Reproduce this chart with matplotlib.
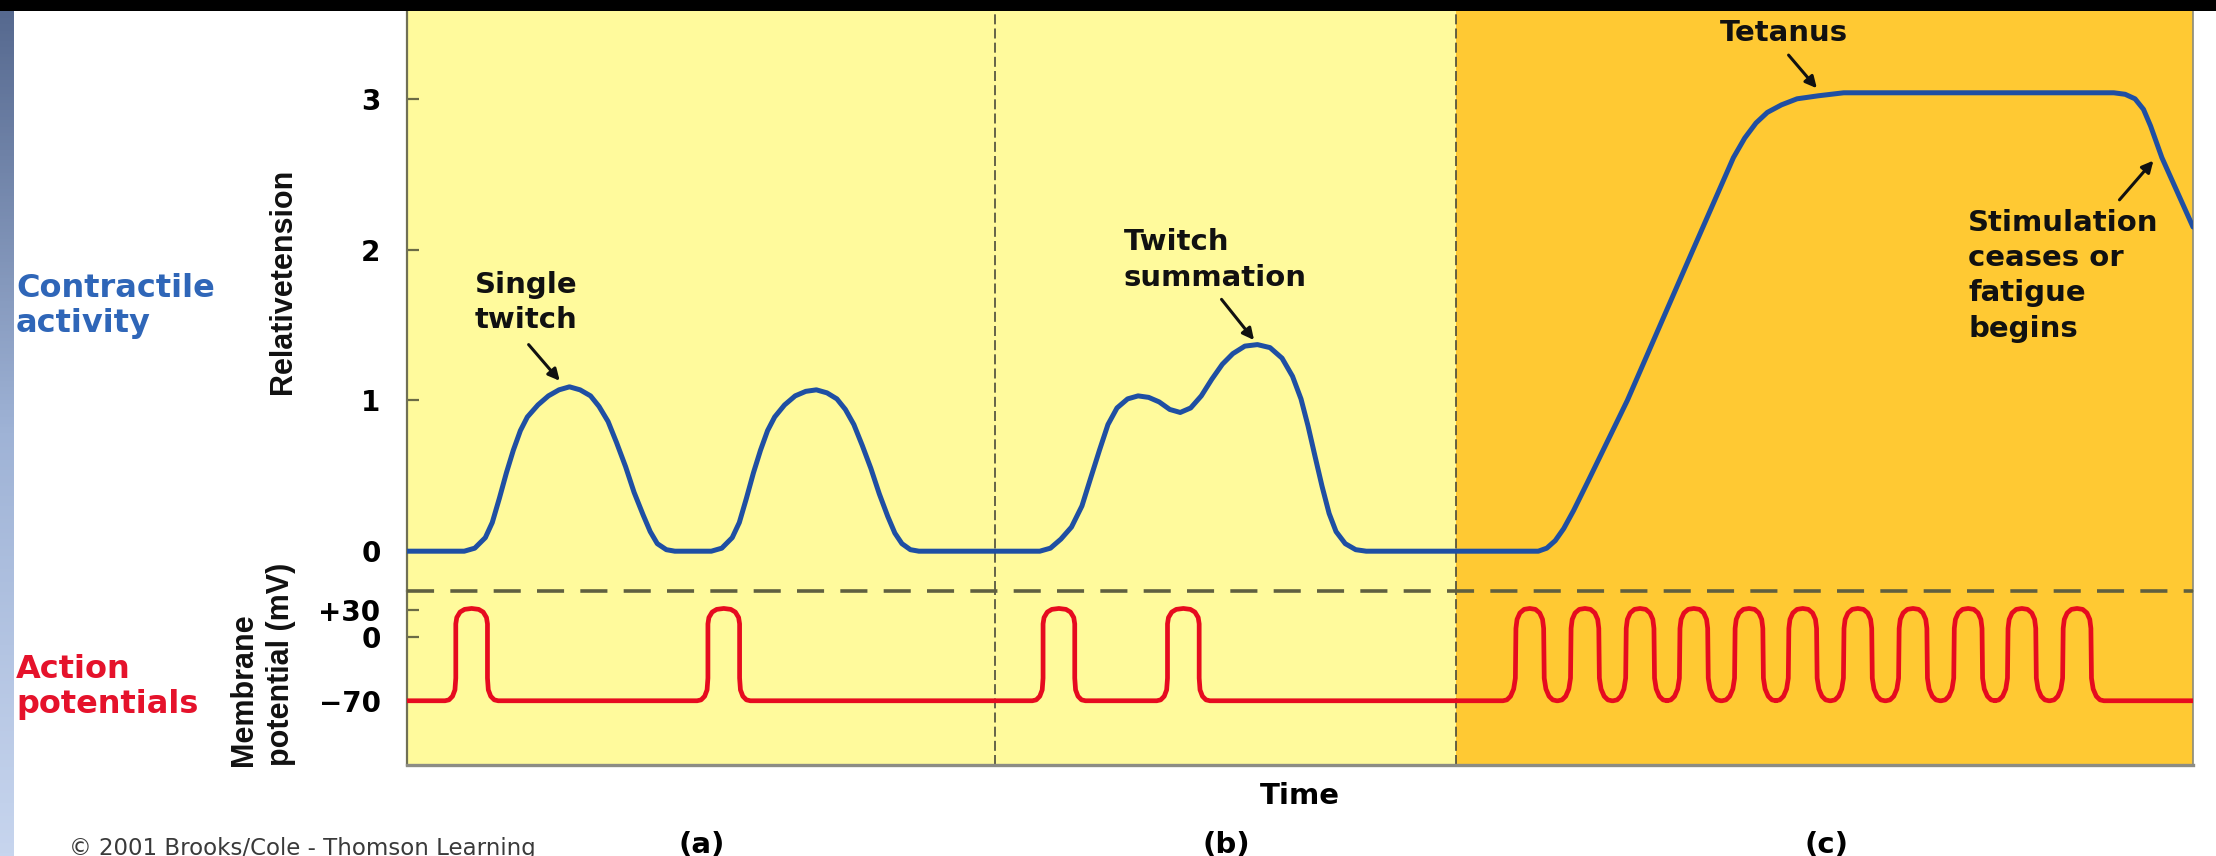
import matplotlib.pyplot as plt
from matplotlib.patches import Rectangle
from matplotlib.colors import LinearSegmentedColormap
import numpy as np

W, H = 2216, 856          # output size in pixels (dpi 100)

T_END = 126.3             # time axis, arbitrary units across the panel
SECTION_EDGES = [41.6, 74.2]
SECTION_LABELS = ["(a)", "(b)", "(c)"]
SECTION_LABEL_X = [702, 1226, 1826]

# relative tension (blue trace)
tension_t = [0.0,
             4.05, 4.79, 5.54, 6.03, 6.53, 7.03, 7.52, 8.02, 8.51, 9.26, 10.0, 10.75, 11.49,
             12.24, 12.98, 13.58, 14.22, 14.82, 15.46, 16.06, 16.7, 17.2, 17.7, 18.34, 18.94,
             21.52, 22.26, 23.0, 23.5, 24.0, 24.5, 25.0, 25.5, 26.0, 26.7, 27.45, 28.2, 28.95,
             29.7, 30.4, 31.0, 31.6, 32.2, 32.8, 33.4, 34.0, 34.5, 35.0, 35.6, 36.2,
             44.75, 45.5, 46.24, 46.99, 47.73, 48.33, 48.97, 49.57, 50.21, 50.96, 51.7, 52.45,
             53.19, 53.94, 54.68, 55.42, 56.17, 56.91, 57.66, 58.4, 59.25, 60.14, 61.03, 61.88,
             62.62, 63.22, 63.72, 64.21, 64.71, 65.21, 65.7, 66.35, 67.09, 67.83,
             80.0, 80.6, 81.2, 81.8, 82.5, 83.5, 86.3, 90.9, 93.8, 94.6, 95.4, 96.2, 97.2,
             98.3, 99.8, 101.6, 120.7, 121.5, 122.2, 122.8, 123.3, 124.1, 126.3]
tension_v = [0.0,
             0.0, 0.02, 0.09, 0.19, 0.35, 0.52, 0.67, 0.80, 0.89, 0.97, 1.03, 1.07, 1.09,
             1.07, 1.03, 0.96, 0.86, 0.72, 0.56, 0.39, 0.24, 0.13, 0.05, 0.01, 0.0,
             0.0, 0.02, 0.09, 0.19, 0.35, 0.52, 0.67, 0.80, 0.89, 0.97, 1.03, 1.06, 1.07,
             1.05, 1.01, 0.94, 0.84, 0.70, 0.55, 0.38, 0.23, 0.12, 0.05, 0.01, 0.0,
             0.0, 0.02, 0.08, 0.16, 0.30, 0.48, 0.67, 0.84, 0.95, 1.01, 1.03, 1.02,
             0.99, 0.94, 0.92, 0.95, 1.03, 1.14, 1.24, 1.31, 1.36, 1.37, 1.35, 1.28,
             1.16, 1.01, 0.83, 0.63, 0.43, 0.25, 0.13, 0.05, 0.01, 0.0,
             0.0, 0.02, 0.07, 0.15, 0.27, 0.46, 1.0, 1.99, 2.61, 2.74, 2.84, 2.91, 2.96,
             3.00, 3.02, 3.04, 3.04, 3.03, 3.00, 2.93, 2.82, 2.61, 2.15]

# action potentials (red trace)
REST_MV = -70
single_ap_times = [4.57, 22.4, 46.1, 54.9]
tetanus_ap_times = [79.4, 83.3, 87.2, 91.0, 94.9, 98.7, 102.6, 106.5, 110.4, 114.2, 118.1]
# spike shapes: offset from peak, mV
single_dt = [-1.88, -1.60, -1.35, -1.18, -1.12, -1.12, -1.05, -0.82, -0.50, 0.0,
             0.50, 0.82, 1.05, 1.12, 1.12, 1.18, 1.35, 1.60, 1.88]
single_mv = [-70, -69, -65, -58, -45, 15, 22, 28, 31, 32,
             31, 28, 22, 15, -45, -58, -65, -69, -70]
tetanus_dt = [-1.90, -1.62, -1.36, -1.14, -1.02, -0.98, -0.90, -0.70, -0.40, 0.0,
              0.40, 0.70, 0.90, 0.98, 1.02, 1.14, 1.36, 1.62, 1.90]
tetanus_mv = [-70, -69, -65, -57, -45, 10, 20, 27, 31, 32,
              31, 27, 20, 10, -45, -57, -65, -69, -70]

tension_ticks = [0, 1, 2, 3]
mv_ticks = [30, 0, -70]
mv_tick_labels = ["+30", "0", "\u221270"]

YELLOW = "#fffa9c"
ORANGE = "#ffc933"
BLUE = "#1f4fa3"
RED = "#e60b1f"
OLIVE = "#6b6b45"


def fx(x):
    return x / W


def fy(y):
    return 1 - y / H


fig = plt.figure(figsize=(W / 100, H / 100), dpi=100)
fig.patch.set_facecolor("white")

left, right = 407, 2193
ax_t = fig.add_axes([fx(left), fy(591), (right - left) / W, (591 - 10) / H])
ax_m = fig.add_axes([fx(left), fy(765), (right - left) / W, (765 - 591) / H], sharex=ax_t)
ax_t.set_zorder(3)

bold = dict(family="DejaVu Sans", weight="bold")

for ax in (ax_t, ax_m):
    ax.set_facecolor(YELLOW)
    ax.axvspan(0, SECTION_EDGES[1], color=YELLOW, lw=0, zorder=0)
    ax.axvspan(SECTION_EDGES[1], T_END, color=ORANGE, lw=0, zorder=0)
    for xe in SECTION_EDGES:
        ax.axvline(xe, color="#4a4a3a", lw=1.2, dashes=(6, 2.5), zorder=1)
    ax.set_xlim(0, T_END)
    ax.tick_params(axis="y", direction="in", length=8.5, width=1.6, color=OLIVE,
                   pad=19, labelsize=20)
    ax.tick_params(axis="x", bottom=False, labelbottom=False)
    ax.spines["top"].set_visible(False)
    ax.spines["left"].set_color("#707055")
    ax.spines["left"].set_linewidth(1.6)
    ax.spines["right"].set_color("#8a8a7a")
    ax.spines["right"].set_linewidth(1.2)

ax_t.spines["bottom"].set_visible(False)
ax_m.spines["bottom"].set_color("#8c8c84")
ax_m.spines["bottom"].set_linewidth(2.4)

# tension panel
ax_t.set_ylim(-0.264, 3.589)
ax_t.set_yticks(tension_ticks)
ax_t.set_yticklabels([str(v) for v in tension_ticks], **bold)
ax_t.plot(tension_t, tension_v, color=BLUE, lw=3.6, solid_joinstyle="round",
          solid_capstyle="round", zorder=3)
ax_t.axhline(-0.264, color="#5f5f40", lw=2.6, dashes=(7.5, 4.5), clip_on=False, zorder=4)

# membrane panel
ap_t = [0.0]
ap_v = [REST_MV]
for t0 in single_ap_times + tetanus_ap_times:
    if t0 in single_ap_times:
        dts, mvs = single_dt, single_mv
    else:
        dts, mvs = tetanus_dt, tetanus_mv
    ap_t += [t0 + d for d in dts]
    ap_v += mvs
ap_t.append(T_END)
ap_v.append(REST_MV)
ax_m.set_ylim(-141, 51.3)
ax_m.set_yticks(mv_ticks)
ax_m.set_yticklabels(mv_tick_labels, **bold)
ax_m.plot(ap_t, ap_v, color=RED, lw=3.4, solid_joinstyle="round",
          solid_capstyle="round", zorder=3)

# annotations
ann = dict(fontsize=21, color="#111111", linespacing=1.33, **bold)
arrow = dict(arrowstyle="-|>", color="#111111", lw=2.2, mutation_scale=17,
             shrinkA=0, shrinkB=0)
ax_t.text(4.8, 1.86, "Single\ntwitch", ha="left", va="top", **ann)
ax_t.annotate("", xy=(10.8, 1.13), xytext=(8.6, 1.37), arrowprops=arrow)
ax_t.text(50.7, 2.14, "Twitch\nsummation", ha="left", va="top", **ann)
ax_t.annotate("", xy=(59.9, 1.40), xytext=(57.6, 1.67), arrowprops=arrow)
ax_t.text(97.4, 3.53, "Tetanus", ha="center", va="top", **ann)
ax_t.annotate("", xy=(99.7, 3.07), xytext=(97.7, 3.29), arrowprops=arrow)
ax_t.text(110.4, 2.27, "Stimulation\nceases or\nfatigue\nbegins", ha="left", va="top", **ann)
ax_t.annotate("", xy=(123.5, 2.59), xytext=(121.1, 2.33), arrowprops=arrow)

# axis titles
rot = dict(family="Liberation Sans", weight="bold", fontsize=22, color="#111111")
fig.text(fx(283), fy(281), "Relativetension", rotation=90, ha="center", va="center", **rot)
fig.text(fx(244), fy(766), "Membrane", rotation=90, rotation_mode="anchor",
         ha="left", va="center", **rot)
fig.text(fx(281), fy(766), "potential (mV)", rotation=90, rotation_mode="anchor",
         ha="left", va="center", **rot)

fig.text(fx(16), fy(306), "Contractile\nactivity", ha="left", va="center",
         fontsize=23, color="#2f66b8", linespacing=1.2, **bold)
fig.text(fx(16), fy(687), "Action\npotentials", ha="left", va="center",
         fontsize=23, color="#e5122b", linespacing=1.2, **bold)

fig.text(fx(1300), fy(796), "Time", ha="center", va="center", fontsize=21, **bold)
for lab, xc in zip(SECTION_LABELS, SECTION_LABEL_X):
    fig.text(fx(xc), fy(845), lab, ha="center", va="center", fontsize=21, **bold)
fig.text(fx(69), fy(848), "\u00a9 2001 Brooks/Cole - Thomson Learning", ha="left",
         va="center", fontsize=16.5, color="#3a3a3a", family="DejaVu Sans")

# slide decoration: black top band and blue gradient strip on the left
fig.add_artist(Rectangle((0, fy(11)), 1, 11 / H, transform=fig.transFigure,
                         color="black", lw=0, zorder=10))
ax_g = fig.add_axes([0, 0, 14 / W, fy(11)])
grad = np.linspace(0, 1, 256)[:, None]
cmap = LinearSegmentedColormap.from_list("strip", ["#56698f", "#9fb3d6", "#c7d5ee"])
ax_g.imshow(grad, aspect="auto", cmap=cmap, origin="upper")
ax_g.axis("off")

fig.savefig("out.png", dpi=100)
